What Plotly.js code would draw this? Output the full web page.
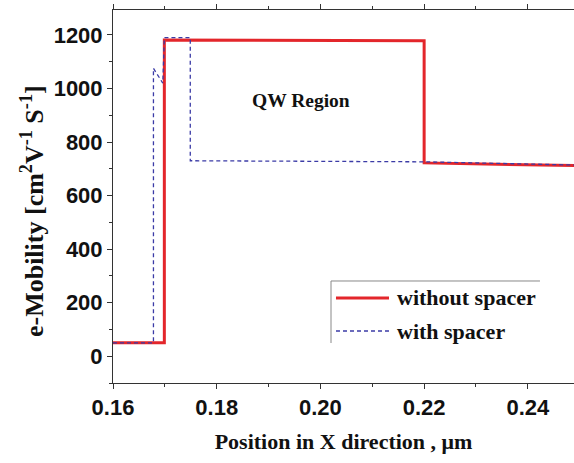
<!DOCTYPE html>
<html>
<head>
<meta charset="utf-8">
<script src="https://cdn.plot.ly/plotly-3.0.1.min.js"></script>
<style>html,body{margin:0;padding:0;background:#fff;}#chart{width:574px;height:463px;}</style>
</head>
<body>
<div id="chart"></div>
<script>
// Series: without spacer (red solid)
const xWithout = [0.16, 0.1699, 0.1699, 0.2200, 0.2200, 0.2489];
const yWithout = [50, 50, 1181, 1178, 722, 712];
// Series: with spacer (blue dashed)
const xWith = [0.16, 0.1678, 0.1678, 0.1696, 0.1699, 0.1749, 0.1749, 0.2200, 0.2489];
const yWith = [50, 50, 1075, 1020, 1190, 1190, 730, 726, 714];
// Labels
const seriesNames = ["without spacer", "with spacer"];
const xTicks = [0.16, 0.18, 0.20, 0.22, 0.24];
const xTickText = ["0.16", "0.18", "0.20", "0.22", "0.24"];
const yTicks = [0, 200, 400, 600, 800, 1000, 1200];
const regionLabel = "QW Region";
const yTitle = "e-Mobility [cm<sup>2</sup>V<sup>-1</sup> S<sup>-1</sup>]";
const xTitle = "Position in X direction , \u03bcm";

const tickFont = {family: "Liberation Sans, Arial, sans-serif", size: 22, color: "#111", weight: "bold"};
const serif = "Liberation Serif, Times New Roman, serif";

const traces = [
  {x: xWithout, y: yWithout, name: seriesNames[0], mode: "lines",
   line: {color: "#e3262b", width: 3}},
  {x: xWith, y: yWith, name: seriesNames[1], mode: "lines",
   line: {color: "#3b3ba6", width: 1.3, dash: "4px,3px"}}
];

const layout = {
  width: 574, height: 463,
  margin: {l: 113, r: 0, t: 10, b: 80},
  paper_bgcolor: "#fff", plot_bgcolor: "#fff",
  showlegend: false,
  xaxis: {
    range: [0.16, 0.2489], tickvals: xTicks, ticktext: xTickText,
    ticks: "outside", ticklen: 5, tickcolor: "#333", tickwidth: 1,
    minor: {dtick: 0.01, tick0: 0.16, ticks: "outside", ticklen: 3, tickcolor: "#333"},
    showline: true, linecolor: "#333", linewidth: 1, mirror: "ticks",
    showgrid: false, zeroline: false, tickfont: tickFont,
    title: {text: xTitle, font: {family: serif, size: 22, color: "#111", weight: "bold"}, standoff: 14}
  },
  yaxis: {
    range: [-100, 1293], tickvals: yTicks,
    ticks: "outside", ticklen: 5, tickcolor: "#333", tickwidth: 1,
    minor: {dtick: 100, tick0: 0, ticks: "outside", ticklen: 3, tickcolor: "#333"},
    showline: true, linecolor: "#333", linewidth: 1,
    showgrid: false, zeroline: false, tickfont: tickFont
  },
  annotations: [
    {text: yTitle, xref: "paper", yref: "paper", x: -0.1757, y: 0.461, xanchor: "center", yanchor: "middle",
     textangle: -90, showarrow: false, font: {family: serif, size: 26, color: "#111", weight: "bold"}},
    {text: regionLabel, xref: "paper", yref: "paper", x: 0.408, y: 0.757, xanchor: "center", yanchor: "middle",
     showarrow: false, font: {family: serif, size: 19.5, color: "#111", weight: "bold"}},
    {text: seriesNames[0], xref: "paper", yref: "paper", x: 0.6117, y: 0.2279, xanchor: "left", yanchor: "middle",
     showarrow: false, font: {family: serif, size: 22, color: "#111", weight: "bold"}},
    {text: seriesNames[1], xref: "paper", yref: "paper", x: 0.6117, y: 0.1394, xanchor: "left", yanchor: "middle",
     showarrow: false, font: {family: serif, size: 22, color: "#111", weight: "bold"}}
  ],
  shapes: [
    {type: "line", xref: "paper", yref: "paper", x0: 0.4729, x1: 0.9262, y0: 0.2735, y1: 0.2735, line: {color: "#888", width: 1}},
    {type: "line", xref: "paper", yref: "paper", x0: 0.4729, x1: 0.4729, y0: 0.2735, y1: 0.1072, line: {color: "#888", width: 1}},
    {type: "line", xref: "paper", yref: "paper", x0: 0.4837, x1: 0.5987, y0: 0.2279, y1: 0.2279, line: {color: "#e3262b", width: 3}},
    {type: "line", xref: "paper", yref: "paper", x0: 0.4837, x1: 0.5987, y0: 0.1394, y1: 0.1394, line: {color: "#3b3ba6", width: 1.3, dash: "4px,3px"}}
  ]
};

Plotly.newPlot("chart", traces, layout, {displayModeBar: false, staticPlot: true});
</script>
</body>
</html>
